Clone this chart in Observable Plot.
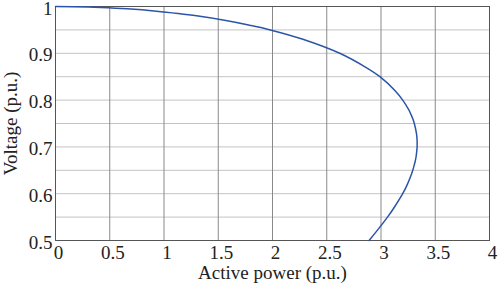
<!DOCTYPE html>
<html>
<head>
<meta charset="utf-8">
<script src="https://cdn.jsdelivr.net/npm/d3@7"></script>
<script src="https://cdn.jsdelivr.net/npm/@observablehq/plot@0.6"></script>
<style>
  html, body { margin: 0; padding: 0; background: #fff; }
  #chart svg { display: block; }
  #chart svg text { font-family: 'Liberation Serif', 'Times New Roman', serif; }
</style>
</head>
<body>
<div id="chart"></div>
<script>
// Active power (p.u.) along the PV curve
const power   = [0, 0.30, 0.42, 0.66, 0.93, 1.13, 1.30, 1.57, 1.79, 1.98, 2.28, 2.62, 2.86, 2.99, 3.13, 3.20, 3.254, 3.275, 3.293, 3.307, 3.326, 3.331, 3.333, 3.333, 3.329, 3.324, 3.316, 3.305, 3.293, 3.278, 3.243, 3.20, 3.12, 3.06, 2.96, 2.89];
// Voltage (p.u.) at each point
const voltage = [1.00, 0.999, 0.998, 0.995, 0.99, 0.985, 0.98, 0.97, 0.96, 0.95, 0.93, 0.90, 0.87, 0.85, 0.82, 0.80, 0.78, 0.77, 0.76, 0.75, 0.73, 0.72, 0.71, 0.70, 0.69, 0.68, 0.67, 0.66, 0.65, 0.64, 0.62, 0.60, 0.57, 0.55, 0.52, 0.50];
const xTicks = [0, 0.5, 1, 1.5, 2, 2.5, 3, 3.5, 4];
const yTicks = [0.5, 0.6, 0.7, 0.8, 0.9, 1];
const yGrid  = [0.55, 0.6, 0.65, 0.7, 0.75, 0.8, 0.85, 0.9, 0.95];

const data = power.map((p, i) => ({p, v: voltage[i]}));
const serif = "'Liberation Serif', 'Times New Roman', serif";

const chart = Plot.plot({
  width: 498,
  height: 283,
  marginLeft: 55,
  marginRight: 9,
  marginTop: 6,
  marginBottom: 43,
  style: {fontFamily: serif, fontSize: "19px", color: "#222", background: "#fff"},
  x: {domain: [0, 4]},
  y: {domain: [0.5, 1]},
  marks: [
    Plot.ruleY(yGrid, {stroke: "#c4c4c4", strokeWidth: 1, strokeOpacity: 1}),
    Plot.ruleX(xTicks.slice(1, -1), {stroke: "#8a8a8a", strokeWidth: 1, strokeOpacity: 1}),
    Plot.frame({stroke: "#555", strokeWidth: 1}),
    Plot.line(data, {x: "p", y: "v", stroke: "#2b55a8", strokeWidth: 1.5, curve: "catmull-rom"}),
    Plot.axisX({ticks: xTicks, tickSize: 0, tickPadding: 5, dx: 3, tickFormat: d => String(d), fontSize: 19, fontFamily: serif, label: null}),
    Plot.axisX({ticks: [], tickSize: 0, fontSize: 19, fontFamily: serif, label: "Active power (p.u.)", labelAnchor: "center", labelOffset: 38, labelArrow: "none"}),
    Plot.axisY({ticks: yTicks, tickSize: 0, tickPadding: 3, dy: 2, tickFormat: d => String(d), fontSize: 19, fontFamily: serif, label: "Voltage (p.u.)", labelAnchor: "center", labelOffset: 52, labelArrow: "none"})
  ]
});
document.getElementById("chart").appendChild(chart);
</script>
</body>
</html>
